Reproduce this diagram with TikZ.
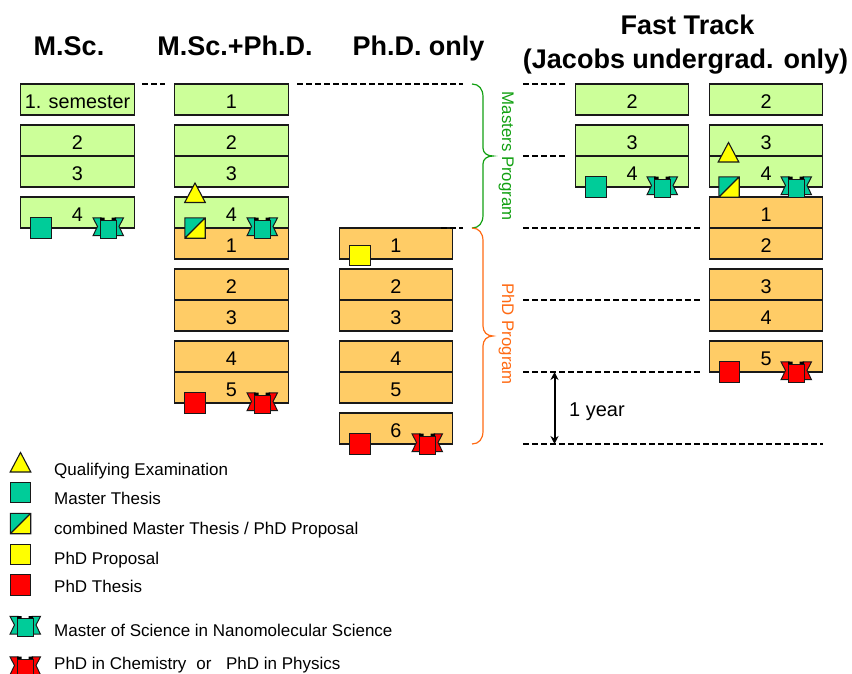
\documentclass[tikz,border=0pt]{standalone}
\usepackage{fontspec}
\usetikzlibrary{arrows.meta}
\setmainfont{Liberation Sans}
\definecolor{mgreen}{HTML}{CCFF99}
\definecolor{morange}{HTML}{FFCC66}
\definecolor{mteal}{HTML}{00CC99}
\definecolor{myellow}{HTML}{FFFF00}
\definecolor{mred}{HTML}{FF0000}
\definecolor{bracegreen}{HTML}{12A012}
\definecolor{braceorange}{HTML}{FF6A13}
\tikzset{
  cell/.style={draw=black!90,line width=1.1bp,minimum width=113.5bp,inner sep=0pt,outer sep=0pt,text height=17.6bp,text depth=0pt,font=\fontsize{19.8bp}{21bp}\selectfont},
  gcell/.style={cell,fill=mgreen,minimum height=31bp},
  ocell/.style={cell,fill=morange,minimum height=31bp},
  mark square/.style={draw=black!90,line width=1.1bp,minimum size=20.5bp,inner sep=0pt,outer sep=0pt},
  tsq/.style={mark square,fill=mteal},
  ysq/.style={mark square,fill=myellow},
  rsq/.style={mark square,fill=mred},
  heading/.style={anchor=base,font=\fontsize{27bp}{30bp}\selectfont\bfseries,inner sep=0pt},
  legend/.style={anchor=base west,inner sep=0pt,font=\fontsize{17bp}{18bp}\selectfont},
  side label/.style={rotate=-90,anchor=base west,inner sep=0pt,font=\fontsize{16.8bp}{18bp}\selectfont},
  dash line/.style={black,line width=1.5bp,dash pattern=on 6bp off 3bp},
  ribbon/.pic={
    \tikzset{x=1bp,y=-1bp}
    \path[draw=black!90,line width=1bp,fill=#1] (-15,-10.7) -- (-7,-10.7) -- (-7,7.2) -- (-15,7.2) -- (-10.5,-2) -- cycle;
    \path[draw=black!90,line width=1bp,fill=#1] (15.5,-10.7) -- (7,-10.7) -- (7,7.2) -- (15.5,7.2) -- (11,-2) -- cycle;
    \path[draw=black!90,line width=1bp,fill=#1] (-8,-8.5) rectangle (8,9.5);
    \path[fill=black] (-8,-10.8) rectangle (-3.5,-8.5) (3.5,-10.8) rectangle (8,-8.5);
  },
  tri/.pic={
    \path[draw=black!90,line width=1.1bp,fill=myellow,x=1bp,y=-1bp] (0,0) -- (10.3,19.5) -- (-10.3,19.5) -- cycle;
  },
  halfsq/.pic={
    \path[fill=mteal,x=1bp,y=-1bp] (-10.2,-10.2) rectangle (10.2,10.2);
    \path[fill=myellow,x=1bp,y=-1bp] (-10.2,10.2) -- (10.2,-10.2) -- (10.2,10.2) -- cycle;
    \path[draw=black!90,line width=1.1bp,x=1bp,y=-1bp] (-10.2,-10.2) rectangle (10.2,10.2) (-10.2,10.2) -- (10.2,-10.2);
  },
}
\begin{document}
\begin{tikzpicture}[x=1bp,y=-1bp]
\useasboundingbox (0,0) rectangle (852,674);
% headings
\node[heading] (h1) at (69,56) {M.Sc.};
\node[heading] (h2) at (235,56) {M.Sc.+Ph.D.};
\node[heading] (h3) at (418.5,56) {Ph.D. only};
\node[heading] (h4) at (687.5,35) {Fast Track};
\node[heading] (h5) at (685.5,68.5) {(Jacobs undergrad. only)};
% M.Sc.
\node[gcell] (a1) at (77.5,99.5) {1. semester};
\node[gcell] (a2) at (77.5,140.5) {2};
\node[gcell] (a3) at (77.5,171.5) {3};
\node[gcell] (a4) at (77.5,212.5) {4};
% M.Sc.+Ph.D.
\node[gcell] (b1) at (231.5,99.5) {1};
\node[gcell] (b2) at (231.5,140.5) {2};
\node[gcell] (b3) at (231.5,171.5) {3};
\node[gcell] (b4) at (231.5,212.5) {4};
\node[ocell] (b5) at (231.5,243.5) {1};
\node[ocell] (b6) at (231.5,284.5) {2};
\node[ocell] (b7) at (231.5,315.5) {3};
\node[ocell] (b8) at (231.5,356.5) {4};
\node[ocell] (b9) at (231.5,387.5) {5};
% Ph.D. only
\node[ocell] (c1) at (396,243.5) {1};
\node[ocell] (c2) at (396,284.5) {2};
\node[ocell] (c3) at (396,315.5) {3};
\node[ocell] (c4) at (396,356.5) {4};
\node[ocell] (c5) at (396,387.5) {5};
\node[ocell] (c6) at (396,428.5) {6};
% Fast track
\node[gcell] (d1) at (632,99.5) {2};
\node[gcell] (d2) at (632,140.5) {3};
\node[gcell] (d3) at (632,171.5) {4};
\node[gcell] (e1) at (766,99.5) {2};
\node[gcell] (e2) at (766,140.5) {3};
\node[gcell] (e3) at (766,171.5) {4};
\node[ocell] (e4) at (766,212.5) {1};
\node[ocell] (e5) at (766,243.5) {2};
\node[ocell] (e6) at (766,284.5) {3};
\node[ocell] (e7) at (766,315.5) {4};
\node[ocell] (e8) at (766,356.5) {5};
% markers
\node[tsq] (m1) at (41,228) {};
\pic at (108,228.5) {ribbon=mteal};
\pic at (195,183) {tri};
\pic at (195,228) {halfsq};
\pic at (262,228.5) {ribbon=mteal};
\node[rsq] (m2) at (195,403) {};
\pic at (262,403.5) {ribbon=mred};
\node[ysq] (m3) at (360,255.5) {};
\node[rsq] (m4) at (360,444) {};
\pic at (427,444.5) {ribbon=mred};
\node[tsq] (m5) at (596,187) {};
\pic at (662,187.5) {ribbon=mteal};
\pic at (728.5,142.5) {tri};
\pic at (729,187) {halfsq};
\pic at (796,187.5) {ribbon=mteal};
\node[rsq] (m6) at (729.5,372) {};
\pic at (796,372.5) {ribbon=mred};
% dashed guides
\coordinate (g1a) at (142,84); \coordinate (g1b) at (165,84);
\coordinate (g2a) at (297,84); \coordinate (g2b) at (463,84);
\coordinate (g3a) at (441,228); \coordinate (g3b) at (463,228);
\coordinate (g4a) at (523,84); \coordinate (g4b) at (565,84);
\coordinate (g5a) at (523,156); \coordinate (g5b) at (565,156);
\coordinate (g6a) at (523,228); \coordinate (g6b) at (700,228);
\coordinate (g7a) at (523,300); \coordinate (g7b) at (700,300);
\coordinate (g8a) at (523,372); \coordinate (g8b) at (700,372);
\coordinate (g9a) at (523,444); \coordinate (g9b) at (823,444);
\foreach \n in {1,...,9} \draw[dash line] (g\n a) -- (g\n b);
% braces
\coordinate (br0) at (472,84);
\coordinate (br1) at (493,156);
\coordinate (br2) at (472,228);
\coordinate (br3) at (493,336);
\coordinate (br4) at (472,444);
\draw[bracegreen,line width=1.2bp] (br0) .. controls (479,84) and (483,89) .. (483,97) -- (483,148) .. controls (483,153) and (487,156) .. (br1) .. controls (487,156) and (483,159) .. (483,164) -- (483,215) .. controls (483,223) and (479,228) .. (br2);
\draw[braceorange,line width=1.2bp] (br2) .. controls (479,228) and (483,233) .. (483,241) -- (483,326) .. controls (483,332) and (487,336) .. (br3) .. controls (487,336) and (483,340) .. (483,346) -- (483,431) .. controls (483,439) and (479,444) .. (br4);
\node[side label,text=bracegreen] (lm) at (502,91.5) {Masters Program};
\node[side label,text=braceorange] (lp) at (502,283) {PhD Program};
% one year
\coordinate (y1) at (554.5,372); \coordinate (y2) at (554.5,444);
\draw[black,line width=2bp,{Stealth[length=8bp,width=8bp]}-{Stealth[length=8bp,width=8bp]}] (y1) -- (y2);
\node[anchor=base west,inner sep=0pt,font=\fontsize{20bp}{22bp}\selectfont] (yr) at (569,416.5) {1 year};
% legend
\pic at (20.5,452.5) {tri};
\node[tsq] (l2) at (20.5,492.5) {};
\pic at (20.5,523.5) {halfsq};
\node[ysq] (l4) at (20.5,554.5) {};
\node[rsq] (l5) at (20.5,585) {};
\pic at (25,627) {ribbon=mteal};
\pic at (25,667.5) {ribbon=mred};
\node[legend] (t1) at (54,475) {Qualifying Examination};
\node[legend] (t2) at (54,504) {Master Thesis};
\node[legend] (t3) at (54,534) {combined Master Thesis / PhD Proposal};
\node[legend] (t4) at (54,564) {PhD Proposal};
\node[legend] (t5) at (54,592.7) {PhD Thesis};
\node[legend] (t6) at (54,636) {Master of Science in Nanomolecular Science};
\node[legend] (t7) at (54,669.3) {PhD in Chemistry\hspace*{10bp}or\hspace*{14.5bp}PhD in Physics};
\end{tikzpicture}
\end{document}
